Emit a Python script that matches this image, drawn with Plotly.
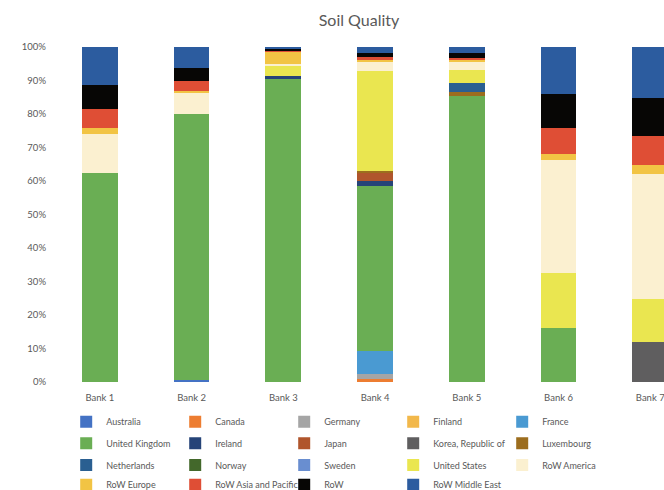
import plotly.graph_objects as go

# Categories
banks = ["Bank 1", "Bank 2", "Bank 3", "Bank 4", "Bank 5", "Bank 6", "Bank 7"]

# Share of soil-quality impact by region (%), one list per region
australia = [0, 0.5, 0, 0, 0, 0, 0]
canada = [0, 0, 0, 0.9, 0, 0, 0]
germany = [0, 0, 0, 1.4, 0, 0, 0]
finland = [0, 0, 0, 0, 0, 0, 0]
france = [0, 0, 0, 6.9, 0, 0, 0]
united_kingdom = [62.5, 79.4, 90.4, 49.4, 85.5, 16.2, 0]
ireland = [0, 0, 0.8, 1.5, 0, 0, 0]
japan = [0, 0, 0, 2.2, 0, 0, 0]
korea = [0, 0, 0, 0, 0, 0, 11.8]
luxembourg = [0, 0, 0, 0.6, 1.2, 0, 0]
netherlands = [0, 0, 0, 0, 2.7, 0, 0]
norway = [0, 0, 0, 0, 0, 0, 0]
sweden = [0, 0, 0, 0, 0, 0, 0]
united_states = [0, 0, 3.3, 30.0, 3.7, 16.4, 13.1]
row_america = [11.4, 6.3, 0.5, 2.8, 2.6, 33.6, 37.3]
row_europe = [1.8, 0.8, 3.7, 0.4, 0.3, 2.0, 2.5]
row_asia_pacific = [5.7, 2.8, 0.3, 0.8, 0.7, 7.6, 8.7]
row_other = [7.4, 3.9, 0.3, 1.2, 1.4, 10.2, 11.4]
row_middle_east = [11.2, 6.3, 0.7, 1.8, 1.8, 13.9, 15.1]

series = [
    ("Australia", australia, "#4472c4"),
    ("Canada", canada, "#ed7d31"),
    ("Germany", germany, "#a5a5a5"),
    ("Finland", finland, "#f2b84b"),
    ("France", france, "#4a9ad2"),
    ("United Kingdom", united_kingdom, "#6aae54"),
    ("Ireland", ireland, "#264478"),
    ("Japan", japan, "#b0552c"),
    ("Korea, Republic of", korea, "#5f5e5f"),
    ("Luxembourg", luxembourg, "#9c6d1e"),
    ("Netherlands", netherlands, "#2a5f91"),
    ("Norway", norway, "#43682b"),
    ("Sweden", sweden, "#698ed0"),
    ("United States", united_states, "#eae650"),
    ("RoW America", row_america, "#fbf0d0"),
    ("RoW Europe", row_europe, "#f2c444"),
    ("RoW Asia and Pacific", row_asia_pacific, "#df4e35"),
    ("RoW", row_other, "#070605"),
    ("RoW Middle East", row_middle_east, "#2c5c9f"),
]

font_family = "Lato, Open Sans, sans-serif"
text_color = "#595959"
per_row = 5
legend_ids = ["legend", "legend2", "legend3", "legend4"]

fig = go.Figure()
for i, (name, values, color) in enumerate(series):
    fig.add_trace(go.Bar(
        x=banks, y=values, name=name,
        legend=legend_ids[i // per_row],
        marker=dict(color=color, line=dict(width=0)),
    ))

# One legend per row so the rows sit on an even 21px pitch
row_y = [-0.1185, -0.183, -0.248, -0.307]
legend_style = dict(
    orientation="h", x=0.02, xref="paper", xanchor="left",
    yanchor="middle",
    entrywidth=64, entrywidthmode="pixels",
    font=dict(size=9, color=text_color, family=font_family),
    itemwidth=30, traceorder="normal",
    bgcolor="rgba(0,0,0,0)",
)
legend_layout = {lid: dict(legend_style, y=y) for lid, y in zip(legend_ids, row_y)}

fig.update_layout(
    width=664, height=490,
    barmode="stack",
    bargap=0.61,
    plot_bgcolor="white",
    paper_bgcolor="white",
    margin=dict(l=54, r=0, t=47, b=108, autoexpand=False),
    font=dict(family=font_family, color=text_color, size=9.5),
    title=dict(
        text="Soil Quality", x=0.5, xref="paper", xanchor="center",
        y=0.958, yanchor="middle",
        font=dict(size=16, color=text_color, family=font_family),
    ),
    xaxis=dict(
        range=[-0.5, 6.15], showgrid=False, showline=False, ticks="",
        ticklabelstandoff=8,
        tickfont=dict(size=9.5, color=text_color),
    ),
    yaxis=dict(
        range=[0, 100], dtick=10, ticksuffix="%", showgrid=False,
        showline=False, ticks="", ticklabelstandoff=7,
        tickfont=dict(size=9.5, color=text_color),
    ),
    showlegend=True,
    **legend_layout,
)

fig.write_html("out.html")
